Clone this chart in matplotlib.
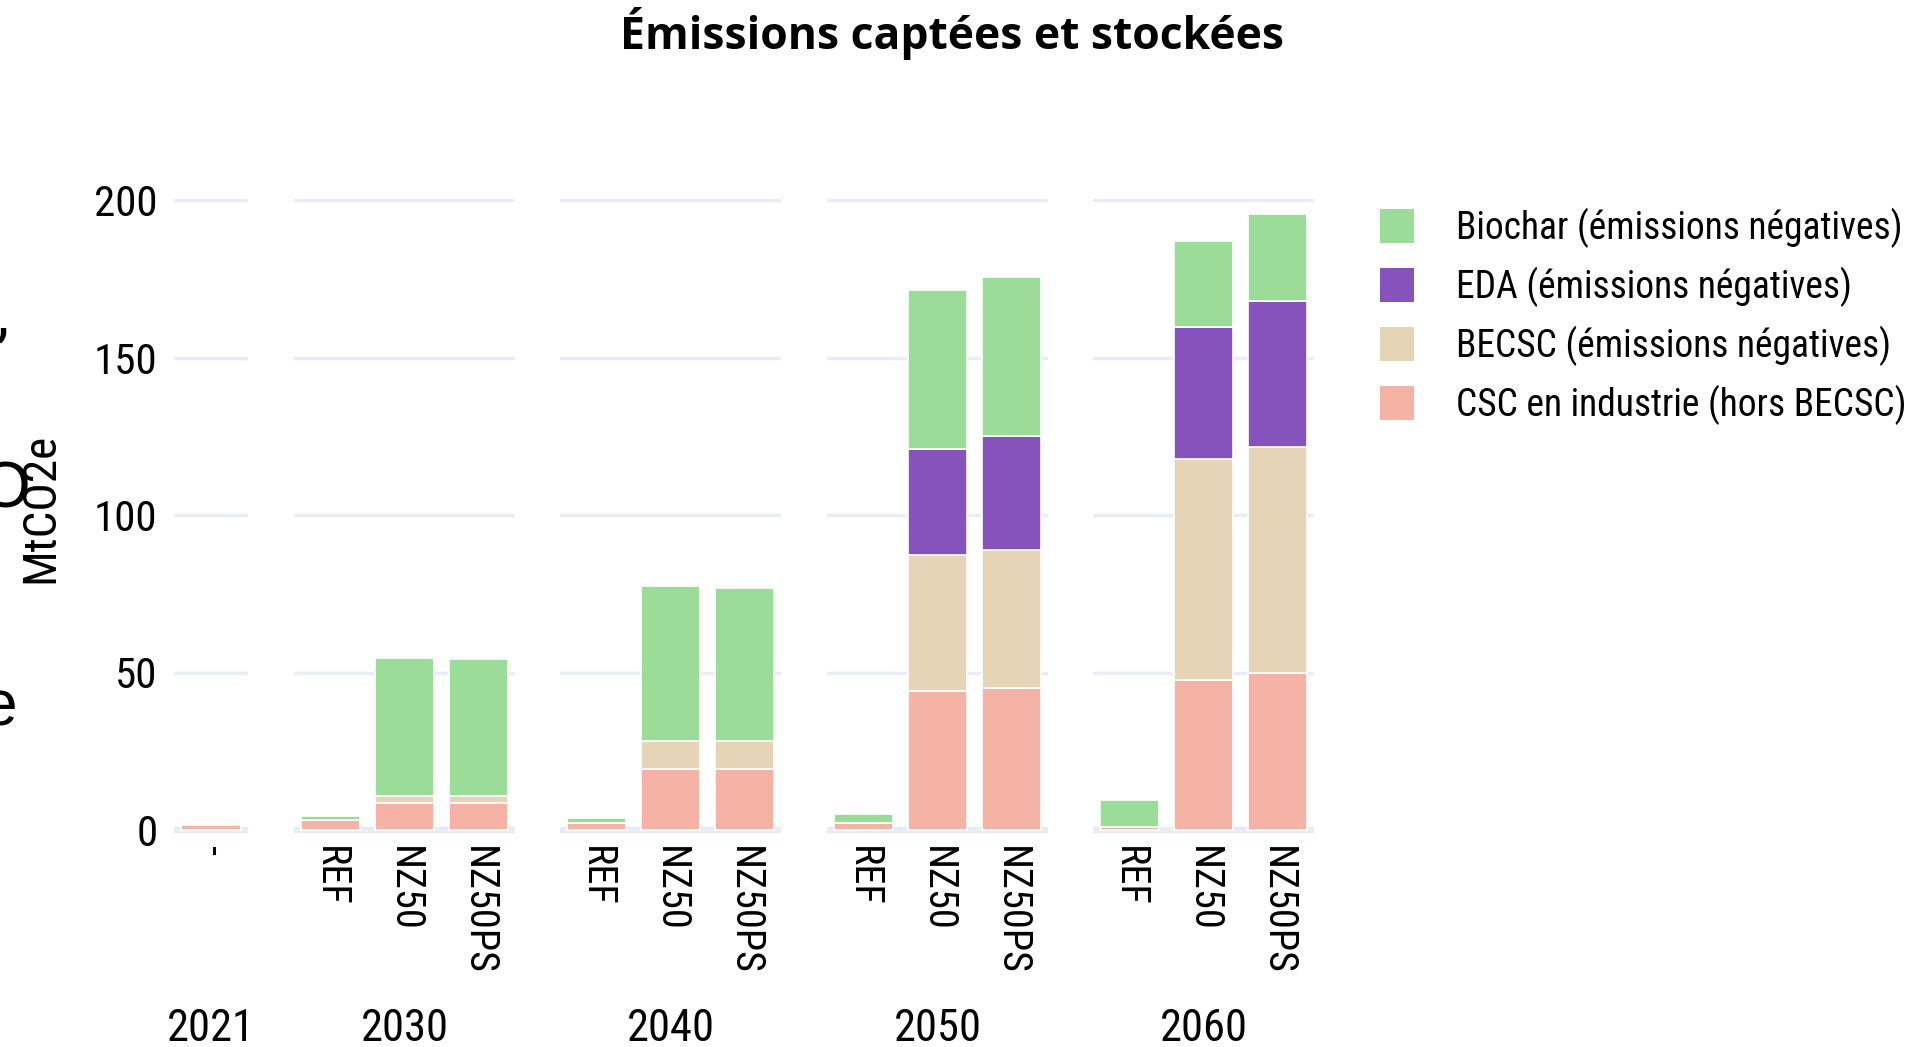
import matplotlib
matplotlib.use("Agg")
import matplotlib.pyplot as plt
from matplotlib.patches import Rectangle
from matplotlib import font_manager

# ---- data (MtCO2e) ----
years = ["2021", "2030", "2040", "2050", "2060"]
bar_years = ["2021",
             "2030", "2030", "2030",
             "2040", "2040", "2040",
             "2050", "2050", "2050",
             "2060", "2060", "2060"]
bar_labels = ["-",
              "REF", "NZ50", "NZ50PS",
              "REF", "NZ50", "NZ50PS",
              "REF", "NZ50", "NZ50PS",
              "REF", "NZ50", "NZ50PS"]
csc_industrie = [1.7, 3.3, 8.7, 8.7, 2.1, 19.5, 19.5, 2.2, 44.2, 45.0, 1.1, 47.5, 49.9]
becsc = [0, 0, 2.2, 2.2, 0, 8.8, 8.6, 0, 43.0, 43.8, 0, 70.3, 71.6]
eda = [0, 0, 0, 0, 0, 0, 0, 0, 33.7, 36.3, 0, 41.8, 46.4]
biochar = [0, 1.2, 43.6, 43.4, 1.7, 49.1, 48.7, 2.8, 50.5, 50.3, 8.5, 27.5, 27.7]
y_ticks = [0, 50, 100, 150, 200]

series_names = ["CSC en industrie (hors BECSC)",
                "BECSC (émissions négatives)",
                "EDA (émissions négatives)",
                "Biochar (émissions négatives)"]
series_values = [csc_industrie, becsc, eda, biochar]
series_colors = ["#F5B3A5", "#E6D4B6", "#8652BC", "#9BDC99"]

# ---- fonts ----
installed = {f.name for f in font_manager.fontManager.ttflist}
narrow = [f for f in ["Liberation Sans Narrow", "Roboto Condensed", "Liberation Sans"] if f in installed]
narrow = narrow + ["DejaVu Sans"]
plt.rcParams["font.family"] = narrow

W, H = 1913, 1047
fig = plt.figure(figsize=(W / 100, H / 100), dpi=100)
fig.patch.set_facecolor("white")

def fx(px):
    return px / W

def fy(py):
    return 1 - py / H

# facet domains in pixels (left, right)
domains = {"2021": (174, 248), "2030": (294, 515), "2040": (560, 781),
           "2050": (827, 1048), "2060": (1093, 1314)}
ymin, ymax = -1.6, 205.0
zero_px, per_unit = 830.0, 3.15
top_px = zero_px - per_unit * ymax
bot_px = zero_px - per_unit * ymin

grid_col = "#EAEDF6"
for k, yr in enumerate(years):
    l, r = domains[yr]
    ax = fig.add_axes([fx(l), fy(bot_px), fx(r - l), (bot_px - top_px) / H])
    idx = [i for i, y in enumerate(bar_years) if y == yr]
    xs = list(range(len(idx)))
    bottoms = [0.0] * len(idx)
    for vals, col in zip(series_values, series_colors):
        v = [vals[i] for i in idx]
        for j, val in enumerate(v):
            if val > 0:
                ax.bar(xs[j], val, width=0.8, bottom=bottoms[j], color=col,
                       edgecolor="white", linewidth=1.2, zorder=3)
            bottoms[j] += val
    ax.set_xlim(-0.5, len(idx) - 0.5)
    ax.set_ylim(ymin, ymax)
    ax.set_yticks(y_ticks)
    ax.grid(axis="y", color=grid_col, linewidth=2.4, zorder=0)
    ax.axhline(0, color="#E6EAF5", linewidth=4.5, zorder=1)
    for s in ax.spines.values():
        s.set_visible(False)
    ax.set_xticks(xs)
    ax.set_xticklabels([bar_labels[i] for i in idx], rotation=-90,
                       fontsize=29, va="top", ha="center")
    ax.tick_params(axis="x", length=0, pad=8)
    ax.tick_params(axis="y", length=0, pad=12, labelsize=31)
    if k > 0:
        ax.tick_params(axis="y", labelleft=False)
    ax.set_facecolor("none")
    fig.text(fx((l + r) / 2), fy(1029), yr, ha="center", va="center", fontsize=32)

# y axis title
fig.text(fx(40), fy(508), "MtCO2e", rotation=90, ha="center", va="center", fontsize=34)

# large clipped glyphs at the left edge
fig.text(fx(8), fy(318), ",", ha="right", va="center", fontsize=44)
fig.text(fx(31), fy(490), "O", ha="right", va="center", fontsize=46,
         family=["Liberation Sans", "DejaVu Sans"])
fig.text(fx(17), fy(708), "e", ha="right", va="center", fontsize=46,
         family=["Liberation Sans", "DejaVu Sans"])

# title
title_fam = [f for f in ["Open Sans", "Noto Sans"] if f in installed] + ["DejaVu Sans"]
fig.text(fx(952), fy(34), "Émissions captées et stockées", ha="center", va="center",
         fontsize=32, fontweight="bold", family=title_fam)

# legend
rows_y = [226, 285, 344, 403]
for name, col, yc in zip(series_names[::-1], series_colors[::-1], rows_y):
    fig.add_artist(Rectangle((fx(1380), fy(yc + 17)), fx(34), 34 / H,
                             transform=fig.transFigure, facecolor=col,
                             edgecolor="none"))
    fig.text(fx(1456), fy(yc + 2), name, ha="left", va="center", fontsize=27)

fig.savefig("out.png", dpi=100, facecolor="white")
